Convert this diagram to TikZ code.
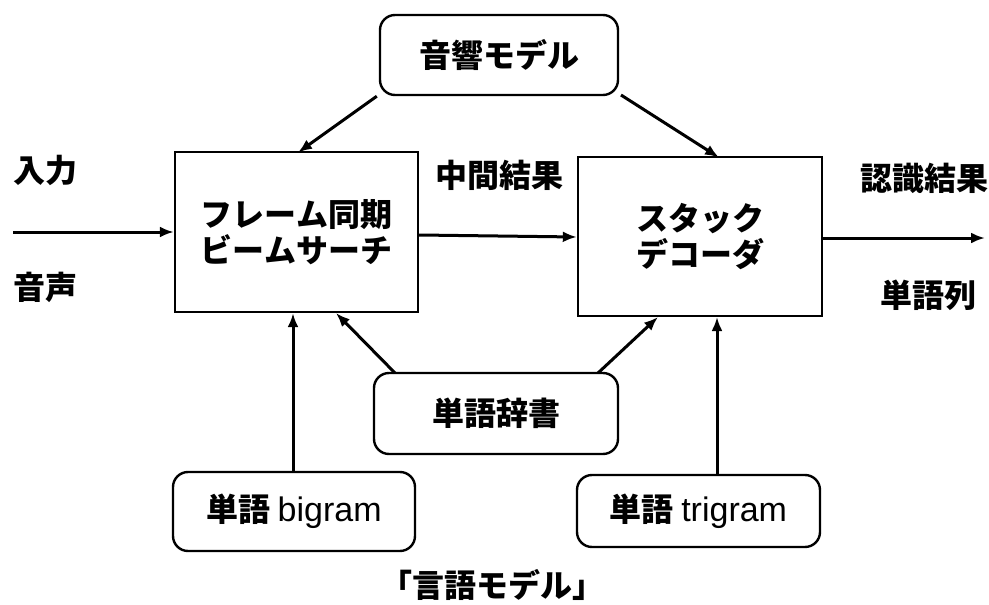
\documentclass[tikz,border=0pt]{standalone}
\usepackage{fontspec}
\newfontfamily\jp{Noto Sans CJK JP}
\newfontfamily\lat{Liberation Sans}
\usetikzlibrary{arrows.meta}
\begin{document}
\begin{tikzpicture}[x=1pt,y=-1pt,
  font=\jp\bfseries\fontsize{32}{36}\selectfont,
  sqbox/.style={draw,line width=2.4pt,inner sep=0pt,align=center},
  rbox/.style={draw,line width=2.4pt,rounded corners=15pt,inner sep=0pt,align=center},
  arr/.style={line width=3pt,-{Latex[length=14pt,width=11pt]}},
  lbl/.style={inner sep=0pt}]
\useasboundingbox (0,0) rectangle (989,605);

\node[rbox,minimum width=238pt,minimum height=80pt] (am) at (499,55) {音響モデル};
\node[sqbox,minimum width=243pt,minimum height=160pt] (fs) at (296.5,232) {フレーム同期\\ビームサーチ};
\node[sqbox,minimum width=244pt,minimum height=159pt] (sd) at (700,236.5) {スタック\\デコーダ};
\node[rbox,minimum width=244pt,minimum height=81pt] (dic) at (496,413.5) {単語辞書};
\node[rbox,minimum width=242pt,minimum height=79pt] (bi) at (294,511.5) {単語 {\lat\mdseries\fontsize{34}{36}\selectfont bigram}};
\node[rbox,minimum width=243pt,minimum height=72pt] (tri) at (698.5,511) {単語 {\lat\mdseries\fontsize{34}{36}\selectfont trigram}};

\node[lbl,anchor=west] (in) at (13,170) {入力};
\node[lbl,anchor=west] (voice) at (13,287) {音声};
\node[lbl] (mid) at (499,175) {中間結果};
\node[lbl] (res) at (924,178) {認識結果};
\node[lbl] (words) at (928,295) {単語列};
\node[lbl] (lm) at (492,585) {「言語モデル」};

\coordinate (src) at (13,232);
\coordinate (dst) at (985,238);

\draw[arr] (src) -- (fs.west |- src);
\draw[arr] (sd.east |- dst) -- (dst);
\draw[arr] (fs.east |- 0,235) -- (sd.west |- 0,237);

\draw[arr] (am.south west) ++(-2,0) coordinate (a1) -- (298,152.5);
\draw[arr] (621,95) -- (719,157.5);

\draw[arr] (395,373) -- (336,313);
\draw[arr] (598,373) -- (658,317);

\draw[arr] (bi.north) ++(-1,0) coordinate (b1) -- (b1 |- fs.south);
\draw[arr] (717,475) -- (717,317);
\end{tikzpicture}
\end{document}
